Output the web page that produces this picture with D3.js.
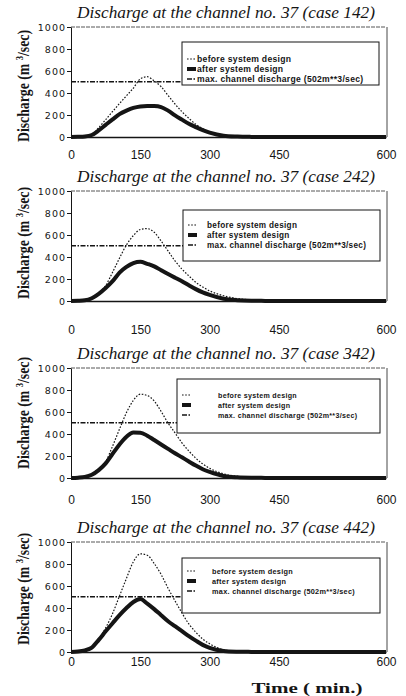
<!DOCTYPE html>
<html>
<head>
<meta charset="utf-8">
<script src="https://cdn.jsdelivr.net/npm/d3@7"></script>
<style>
  body { margin: 0; background: #fff; }
  svg { display: block; }
</style>
</head>
<body>
<script>
//time steps in minutes, shared by every hydrograph
var times = [0,15,30,45,60,75,90,105,120,135,150,165,180,195,210,225,240,255,270,285,300,330,360,390,420,480,540,600];

//case numbers, one panel each
var cases = ["142","242","342","442"];

//discharge (m3/sec) before / after system design
var before142 = [0,2,5,18,85,158,232,305,375,445,528,548,510,457,378,300,230,170,115,75,45,12,3,1,0,0,0,0];
var after142  = [0,2,5,18,60,110,160,208,240,265,278,282,281,272,240,197,158,120,90,62,40,12,4,1,0,0,0,0];
var before242 = [0,2,6,15,70,140,262,390,510,595,650,658,625,545,455,365,290,228,170,128,92,48,22,10,4,1,0,0];
var after242  = [0,2,6,25,65,118,180,258,310,345,357,338,315,280,245,212,180,143,108,78,55,20,7,2,1,0,0,0];
var before342 = [0,3,10,35,85,150,290,445,595,706,762,750,700,605,500,410,320,245,180,128,88,38,14,5,2,0,0,0];
var after342  = [0,3,10,30,72,133,220,305,375,414,412,385,345,305,265,225,188,150,113,80,55,18,6,2,1,0,0,0];
var before442 = [0,4,15,48,120,220,350,510,670,821,892,880,805,705,580,465,355,255,180,118,75,20,6,2,1,0,0,0];
var after442  = [0,4,15,40,110,188,262,335,400,455,481,440,390,335,280,235,190,145,103,65,38,10,3,1,0,0,0,0];

//max. channel discharge
var maxDischarge = 502;

//axis ticks and legend text
var yTicks = [0,200,400,600,800,1000];
var xTicks = [0,150,300,450,600];
var legendLabels = ["before system design", "after system design", "max. channel discharge (502m**3/sec)"];

var series = [
    {before: before142, after: after142},
    {before: before242, after: after242},
    {before: before342, after: after342},
    {before: before442, after: after442}
];

//page layout of the four scanned panels
var panels = [
    {top: 27,  labOff: 22, ylabY: 86,  legend: {x: 182, y: 42,  w: 197, h: 43, tx: 197, r0: 17, fs: 8.6}},
    {top: 191, labOff: 33, ylabY: 243, legend: {x: 183, y: 210, w: 197, h: 51, tx: 207, r0: 15, fs: 8.2}},
    {top: 368, labOff: 26, ylabY: 413, legend: {x: 177, y: 379, w: 203, h: 54, tx: 218, r0: 16, fs: 7.1}},
    {top: 542, labOff: 14, ylabY: 589, legend: {x: 182, y: 558, w: 198, h: 55, tx: 212, r0: 13, fs: 7.3}}
];

var width = 406,
    height = 696,
    left = 71,
    right = 386,
    plotH = 110,
    ink = "#151515";

var svg = d3.select("body")
    .append("svg")
    .attr("width", width)
    .attr("height", height);

//time axis: labels 0..450 evenly spaced, 600 sits at the far edge
var x = d3.scaleLinear()
    .domain([0, 450, 600])
    .range([left, 279, right]);

panels.forEach(function(p, i){
    var y = d3.scaleLinear()
        .domain([0, 1000])
        .range([p.top + plotH, p.top]);

    var g = svg.append("g").attr("class", "panel");

    var line = d3.line()
        .x(function(d, j){ return x(times[j]); })
        .y(function(d){ return y(d); })
        .curve(d3.curveMonotoneX);

    //frame top and right
    g.append("line")
        .attr("x1", left).attr("x2", right)
        .attr("y1", y(1000)).attr("y2", y(1000))
        .attr("stroke", "#444").attr("stroke-width", 0.9)
        .attr("stroke-dasharray", "4,1");
    g.append("line")
        .attr("x1", right + 1).attr("x2", right + 1)
        .attr("y1", y(1000)).attr("y2", y(0))
        .attr("stroke", "#333").attr("stroke-width", 0.9);

    //max channel discharge line
    g.append("line")
        .attr("x1", x(0)).attr("x2", p.legend.x)
        .attr("y1", y(maxDischarge)).attr("y2", y(maxDischarge))
        .attr("stroke", ink).attr("stroke-width", 1.6)
        .attr("stroke-dasharray", "5,1.5,1.5,1.5");

    //before system design
    g.append("path")
        .datum(series[i].before)
        .attr("d", line)
        .attr("fill", "none")
        .attr("stroke", ink)
        .attr("stroke-width", 1.2)
        .attr("stroke-dasharray", "1.6,1.6");

    //after system design
    g.append("path")
        .datum(series[i].after)
        .attr("d", line)
        .attr("fill", "none")
        .attr("stroke", ink)
        .attr("stroke-width", 4)
        .attr("stroke-linejoin", "round");

    //axes
    var yAxis = g.append("g")
        .attr("transform", "translate(" + left + ",0)")
        .call(d3.axisLeft(y).tickValues(yTicks).tickFormat(d3.format("d"))
            .tickSize(4).tickSizeOuter(0).tickPadding(1));
    yAxis.selectAll("text")
        .style("font-family", "DejaVu Sans")
        .style("font-size", "9.5px")
        .style("letter-spacing", "1px")
        .attr("fill", ink);

    var xAxis = g.append("g")
        .attr("transform", "translate(0," + y(0) + ")")
        .call(d3.axisBottom(x).tickValues(xTicks).tickSize(0).tickSizeOuter(0).tickPadding(p.labOff - 9));
    xAxis.selectAll("text")
        .style("font-family", "Liberation Sans")
        .style("font-size", "12px")
        .attr("fill", ink);
    xAxis.select(".domain").attr("stroke-width", 1.5);
    g.selectAll(".domain, .tick line").attr("stroke", ink);

    //legend
    var lg = g.append("g");
    lg.append("rect")
        .attr("x", p.legend.x).attr("y", p.legend.y)
        .attr("width", p.legend.w).attr("height", p.legend.h)
        .attr("fill", "#fff").attr("stroke", ink).attr("stroke-width", 1);

    var styles = [
        {w: 1.2, dash: "1.6,1.6"},
        {w: 4, dash: null},
        {w: 1.6, dash: "5,1.5,1.5,1.5"}
    ];
    legendLabels.forEach(function(lab, k){
        var ry = p.legend.y + p.legend.r0 + k * 10;
        lg.append("line")
            .attr("x1", p.legend.x + 5).attr("x2", p.legend.x + 14)
            .attr("y1", ry).attr("y2", ry)
            .attr("stroke", ink)
            .attr("stroke-width", styles[k].w)
            .attr("stroke-dasharray", styles[k].dash);
        lg.append("text")
            .attr("x", p.legend.tx)
            .attr("y", ry + 2.8)
            .style("font-family", "Liberation Sans")
            .style("font-size", p.legend.fs + "px")
            .style("font-weight", "bold")
            .style("letter-spacing", "0.3px")
            .attr("fill", ink)
            .text(lab);
    });

    //title
    g.append("text")
        .attr("x", 226)
        .attr("y", p.top - 9)
        .attr("text-anchor", "middle")
        .attr("textLength", 298)
        .attr("lengthAdjust", "spacingAndGlyphs")
        .style("font-family", "Liberation Serif")
        .style("font-style", "italic")
        .style("font-size", "16.5px")
        .attr("fill", ink)
        .text("Discharge at the channel no. 37 (case " + cases[i] + ")");

    //y label
    var yl = g.append("text")
        .attr("transform", "translate(29," + p.ylabY + ") rotate(-90)")
        .attr("text-anchor", "middle")
        .attr("textLength", 112)
        .attr("lengthAdjust", "spacingAndGlyphs")
        .style("font-family", "Liberation Serif")
        .style("font-weight", "bold")
        .style("font-size", "16px")
        .attr("fill", ink);
    yl.append("tspan").text("Discharge (m ");
    yl.append("tspan").attr("dy", -6).style("font-size", "10px").text("3");
    yl.append("tspan").attr("dy", 6).text("/sec)");
});

//time label under the last panel
svg.append("text")
    .attr("x", 307)
    .attr("y", 693)
    .attr("text-anchor", "middle")
    .attr("textLength", 111)
    .attr("lengthAdjust", "spacingAndGlyphs")
    .style("font-family", "Liberation Serif")
    .style("font-weight", "bold")
    .style("font-size", "15px")
    .attr("fill", ink)
    .text("Time ( min.)");
</script>
</body>
</html>
